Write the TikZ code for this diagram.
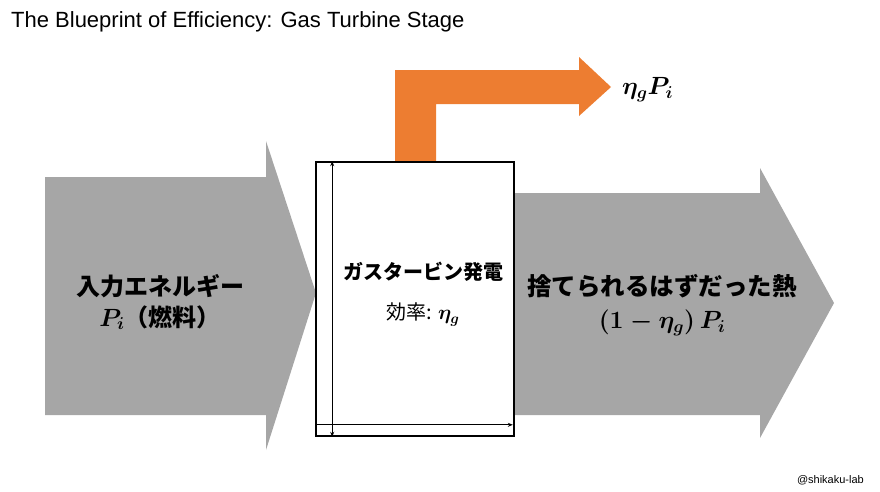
\documentclass[tikz,border=0pt]{standalone}
\usepackage{amsmath}
\usepackage{fontspec}
\setmainfont{Liberation Sans}
\newfontfamily\jpfont{Noto Sans CJK JP}
\usetikzlibrary{positioning,arrows.meta,calc}
\definecolor{flowgray}{HTML}{A6A6A6}
\definecolor{floworange}{HTML}{ED7D31}

\begin{document}
\begin{tikzpicture}[x=1pt,y=-1pt,>=Stealth,
   jplabel/.style={align=center,inner sep=0pt},
   gauge/.style={line width=0.8pt,arrows={-Stealth[length=5pt,width=4pt]}}]
  \useasboundingbox (0,0) rectangle (880,491);
  \node[anchor=west,inner sep=0pt,font=\fontsize{22}{26}\selectfont] (title) at (11,22)
    {The Blueprint of Efficiency: Gas Turbine Stage};
  % block arrows
  \fill[flowgray] (45,177) -- (266,177) -- (266,141) -- (316,293) -- (266,450)
    -- (266,415) -- (45,415) -- cycle;
  \fill[flowgray] (515,193) -- (760,193) -- (760,168) -- (834,303) -- (760,438)
    -- (760,415) -- (515,415) -- cycle;
  \fill[floworange] (395,162) -- (395,70) -- (579,70) -- (579,57) -- (611,87)
    -- (579,116) -- (579,104) -- (436,104) -- (436,162) -- cycle;
  % generator box
  \node[draw,line width=1.6pt,inner sep=0pt,minimum width=198pt,minimum height=274pt]
    (gen) at (415,299) {};
  \node[jplabel,font=\jpfont\bfseries\fontsize{20}{24}\selectfont] (genname) at (423,272) {ガスタービン発電};
  \node[jplabel,font=\jpfont\fontsize{20}{24}\selectfont,below=21pt of genname] (geneff)
    {効率: $\boldsymbol{\eta_g}$};
  \draw[gauge,{Stealth[length=5pt,width=4pt]}-{Stealth[length=5pt,width=4pt]}]
    ($(gen.north west)+(17,0)$) -- ($(gen.south west)+(17,0)$);
  \draw[gauge] ($(gen.south west)+(0,-12)$) -- ($(gen.south east)+(-2,-12)$);
  % labels
  \node[jplabel,font=\jpfont\bfseries\fontsize{24}{31}\selectfont] (input) at (160,302)
    {入力エネルギー\\$\boldsymbol{P_i}$（燃料）};
  \node[jplabel,font=\jpfont\bfseries\fontsize{24.5}{33}\selectfont] (waste) at (662,305)
    {捨てられるはずだった熱\\$\boldsymbol{(1-\eta_g)\,P_i}$};
  \node[jplabel,font=\fontsize{26}{30}\selectfont,anchor=west] (work) at (622,90)
    {$\boldsymbol{\eta_g P_i}$};
  \node[anchor=east,inner sep=0pt,font=\fontsize{11}{13}\selectfont] (credit) at (864,480) {@shikaku-lab};
\end{tikzpicture}
\end{document}
